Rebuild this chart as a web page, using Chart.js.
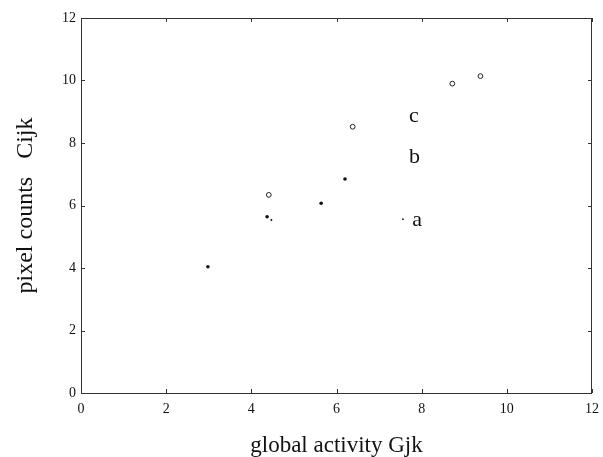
<!DOCTYPE html>
<html>
<head>
<meta charset="utf-8">
<script src="https://cdn.jsdelivr.net/npm/chart.js@4.4.1/dist/chart.umd.min.js"></script>
<style>
  body { margin: 0; background: #fff; }
  #wrap { width: 603px; height: 457px; }
</style>
</head>
<body>
<div id="wrap"><canvas id="chart" width="603" height="457"></canvas></div>
<script>
// values
const xTicks = [0, 2, 4, 6, 8, 10, 12];
const yTicks = [0, 2, 4, 6, 8, 10, 12];

const seriesA = [{ x: 4.47, y: 5.54 }];
const seriesB = [
  { x: 2.98, y: 4.04 },
  { x: 4.37, y: 5.64 },
  { x: 5.64, y: 6.07 },
  { x: 6.2, y: 6.85 },
];
const seriesC = [
  { x: 4.41, y: 6.34 },
  { x: 6.38, y: 8.52 },
  { x: 8.72, y: 9.9 },
  { x: 9.38, y: 10.14 },
];
const keyMarkA = [{ x: 7.56, y: 5.56 }];

const keyNames = ['a', 'b', 'c'];
const keyX = [7.78, 7.7, 7.7];
const keyY = [5.34, 7.36, 8.68];

const serif = "'Liberation Serif', 'Times New Roman', serif";

// box around the plot with inward ticks on all four sides, plus the a/b/c key
const frame = {
  id: 'frame',
  afterDraw(chart) {
    const { ctx, chartArea: area, scales } = chart;
    const len = 4;
    ctx.save();
    ctx.strokeStyle = '#333';
    ctx.lineWidth = 1;
    ctx.strokeRect(area.left + 0.5, area.top + 0.5, area.right - area.left - 1, area.bottom - area.top);
    ctx.beginPath();
    for (const v of xTicks) {
      const px = Math.round(scales.x.getPixelForValue(v)) + 0.5;
      ctx.moveTo(px, area.bottom);
      ctx.lineTo(px, area.bottom - len);
      ctx.moveTo(px, area.top);
      ctx.lineTo(px, area.top + len);
    }
    for (const v of yTicks) {
      const py = Math.round(scales.y.getPixelForValue(v)) + 0.5;
      ctx.moveTo(area.left, py);
      ctx.lineTo(area.left + len, py);
      ctx.moveTo(area.right, py);
      ctx.lineTo(area.right - len, py);
    }
    ctx.stroke();

    ctx.fillStyle = '#111';
    ctx.font = '22px ' + serif;
    ctx.textBaseline = 'alphabetic';
    ctx.textAlign = 'left';
    keyNames.forEach((name, i) => {
      ctx.fillText(name, scales.x.getPixelForValue(keyX[i]), scales.y.getPixelForValue(keyY[i]));
    });
    ctx.restore();
  },
};

new Chart(document.getElementById('chart'), {
  type: 'scatter',
  data: {
    datasets: [
      {
        label: 'a',
        data: seriesA,
        pointRadius: 1,
        backgroundColor: '#111',
        borderColor: '#111',
        borderWidth: 0,
      },
      {
        label: 'b',
        data: seriesB,
        pointRadius: 1.8,
        backgroundColor: '#111',
        borderColor: '#111',
        borderWidth: 0,
      },
      {
        label: 'c',
        data: seriesC,
        pointRadius: 2.4,
        backgroundColor: '#fff',
        borderColor: '#222',
        borderWidth: 1,
      },
      {
        label: 'key a',
        data: keyMarkA,
        pointRadius: 0.9,
        backgroundColor: '#222',
        borderColor: '#222',
        borderWidth: 0,
      },
    ],
  },
  options: {
    responsive: false,
    animation: false,
    events: [],
    layout: {
      padding: { left: 0, right: 11, top: 18, bottom: 0 },
    },
    plugins: {
      legend: { display: false },
      tooltip: { enabled: false },
    },
    scales: {
      x: {
        type: 'linear',
        min: 0,
        max: 12,
        afterBuildTicks: (scale) => {
          scale.ticks = xTicks.map((v) => ({ value: v }));
        },
        afterFit: (scale) => {
          scale.height = 64;
          scale.paddingLeft = 0;
          scale.paddingRight = 0;
        },
        grid: { display: false, drawTicks: false },
        border: { display: false },
        ticks: {
          padding: 8,
          color: '#111',
          font: { family: serif, size: 14 },
          maxRotation: 0,
        },
        title: {
          display: true,
          text: 'global activity Gjk',
          color: '#111',
          font: { family: serif, size: 23, lineHeight: 1 },
          padding: { top: 0, bottom: 0 },
        },
      },
      y: {
        type: 'linear',
        min: 0,
        max: 12,
        afterBuildTicks: (scale) => {
          scale.ticks = yTicks.map((v) => ({ value: v }));
        },
        afterFit: (scale) => {
          scale.width = 81;
          scale.paddingTop = 0;
          scale.paddingBottom = 0;
        },
        grid: { display: false, drawTicks: false },
        border: { display: false },
        ticks: {
          padding: 5,
          color: '#111',
          font: { family: serif, size: 14 },
        },
        title: {
          display: true,
          text: 'pixel counts   Cijk',
          color: '#111',
          font: { family: serif, size: 24, lineHeight: 1.2 },
          padding: { top: 11, bottom: 0 },
        },
      },
    },
  },
  plugins: [frame],
});
</script>
</body>
</html>
